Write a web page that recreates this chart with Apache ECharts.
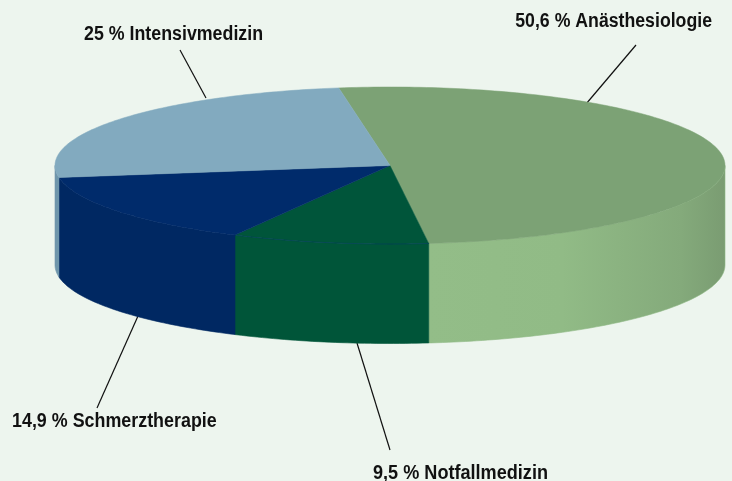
<!DOCTYPE html>
<html lang="de">
<head>
	<meta charset="utf-8">
	<title>Fachgebiete</title>
	<style>
		html, body { margin: 0; padding: 0; background: #edf5ee; }
		#chart { width: 732px; height: 481px; }
	</style>
</head>
<body>
	<div id="chart"></div>

	<script src="https://cdn.jsdelivr.net/npm/echarts@6/dist/echarts.min.js"></script>
	<script type="text/javascript">
		// data, in drawing order, clockwise
		var categories = ['Anästhesiologie', 'Notfallmedizin', 'Schmerztherapie', 'Intensivmedizin'];
		var values = [50.6, 9.5, 14.9, 25];

		// look of the slices
		var topColors = ['#7ca275', '#00553a', '#002b6b', '#82aabf'];
		var wallColors = [
			{ type: 'linear', x: 0, y: 0, x2: 1, y2: 0, colorStops: [
				{ offset: 0, color: '#93bd88' },
				{ offset: 0.45, color: '#91bb86' },
				{ offset: 0.85, color: '#84aa7b' },
				{ offset: 1, color: '#7a9c72' }
			] },
			'#005539',
			'#002862',
			'#6f96ab'
		];

		// disc geometry in pixels
		var cx = 390, cy = 165.5, rx = 335, ry = 78.5, depth = 99.5;
		var startAngle = -8.8; // degrees clockwise from the top

		// leader lines and label anchors, per slice
		var leaders = [
			{ x1: 636, y1: 45, x2: 586, y2: 104, tx: 712, ty: 21, align: 'right', squeeze: 0.885 },
			{ x1: 390, y1: 450, x2: 357, y2: 343, tx: 373, ty: 473, align: 'left', squeeze: 0.905 },
			{ x1: 97, y1: 408, x2: 138, y2: 316, tx: 12, ty: 421, align: 'left', squeeze: 0.894 },
			{ x1: 180, y1: 50, x2: 206, y2: 98, tx: 84, ty: 34, align: 'left', squeeze: 0.89 }
		];

		function rim(deg, drop) {
			var t = deg * Math.PI / 180;
			return [cx + rx * Math.sin(t), cy - ry * Math.cos(t) + drop];
		}

		function arc(from, to, drop) {
			var pts = [];
			for (var a = from; a < to; a += 1) {
				pts.push(rim(a, drop));
			}
			pts.push(rim(to, drop));
			return pts;
		}

		var total = values.reduce(function (s, v) { return s + v; }, 0);

		var myChart = echarts.init(document.getElementById('chart'));
		var option = {
			backgroundColor: '#edf5ee',
			animation: false,
			series: [{
				type: 'custom',
				coordinateSystem: 'none',
				silent: true,
				data: values,
				renderItem: function (params, api) {
					var i = params.dataIndex;
					var before = 0;
					for (var k = 0; k < i; k++) {
						before += values[k];
					}
					var from = startAngle + before / total * 360;
					var to = from + api.value(0) / total * 360;
					var children = [];
					var l = leaders[i];

					children.push({
						type: 'line',
						shape: { x1: l.x1, y1: l.y1, x2: l.x2, y2: l.y2 },
						style: { stroke: '#111111', lineWidth: 1.2 }
					});

					// side wall: only the front half of the disc can be seen
					var wFrom = Math.max(from, 90), wTo = Math.min(to, 270);
					if (wTo > wFrom) {
						children.push({
							type: 'polygon',
							shape: { points: arc(wFrom, wTo, 0).concat(arc(wFrom, wTo, depth).reverse()) },
							style: { fill: wallColors[i], stroke: i === 0 ? '#8fb884' : wallColors[i], lineWidth: 0.6 }
						});
					}

					children.push({
						type: 'polygon',
						shape: { points: [[cx, cy]].concat(arc(from, to, 0)) },
						style: { fill: topColors[i], stroke: topColors[i], lineWidth: 0.5 }
					});

					// faint blue edge where the green top meets its wall
					if (i === 1) {
						children.push({
							type: 'polyline',
							shape: { points: arc(from, to, 0) },
							style: { fill: null, stroke: 'rgba(0, 50, 105, 0.6)', lineWidth: 0.8 }
						});
					}

					children.push({
						type: 'text',
						x: l.tx,
						y: l.ty,
						scaleX: l.squeeze,
						style: {
							x: 0,
							y: 0,
							text: String(api.value(0)).replace('.', ',') + ' % ' + categories[i],
							align: l.align,
							verticalAlign: 'middle',
							fill: '#111111',
							font: 'bold 20px "Liberation Sans", sans-serif'
						}
					});

					return { type: 'group', children: children };
				}
			}]
		};
		myChart.setOption(option);
	</script>
</body>
</html>
